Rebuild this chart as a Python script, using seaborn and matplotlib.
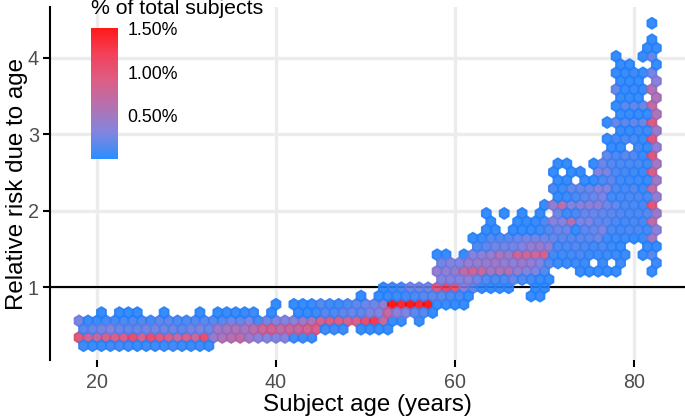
import numpy as np
import pandas as pd
import matplotlib.pyplot as plt
import seaborn as sns
from matplotlib.colors import LinearSegmentedColormap

# risk level of each hexagon row, bottom to top
rel_risk = [0.232, 0.340, 0.448, 0.557, 0.665, 0.773, 0.881, 0.989, 1.098, 1.206,
            1.314, 1.422, 1.530, 1.639, 1.747, 1.855, 1.963, 2.071, 2.180, 2.288,
            2.396, 2.504, 2.612, 2.721, 2.829, 2.937, 3.045, 3.153, 3.262, 3.370,
            3.478, 3.586, 3.694, 3.803, 3.911, 4.019, 4.127, 4.235, 4.344, 4.452]

# age of the first hexagon in each row
first_age = [18.5, 18, 18.5, 18, 20.5, 40, 49.5, 52, 58.5, 58,
             58.5, 58, 62.5, 62, 63.5, 64, 63.5, 70, 71.5, 71,
             71.5, 71, 71.5, 77, 77.5, 77, 78.5, 77, 78.5, 78,
             78.5, 78, 78.5, 78, 78.5, 78, 81.5, 82, 82, 82]

# share of subjects per hexagon in 0.01 %, one year apart, 0 = empty
row_00 = [8, 6, 6, 8, 10, 8, 6, 8, 8, 8, 10, 8, 6, 8, 6]
row_01 = [95, 80, 70, 85, 85, 90, 105, 80, 105, 95, 85, 70, 85, 75, 105, 42, 55, 60, 68, 48, 35, 32, 30, 32, 8, 8, 8]
row_02 = [15, 20, 25, 30, 22, 20, 20, 25, 25, 22, 22, 18, 25, 28, 22, 45, 50, 55, 50, 60, 75, 80, 65, 72, 72, 80, 85, 8, 8, 8, 0, 6, 6, 6, 6]
row_03 = [28, 6, 6, 10, 10, 12, 14, 14, 10, 18, 18, 12, 12, 14, 16, 15, 15, 25, 20, 30, 10, 25, 30, 30, 35, 45, 55, 80, 90, 90, 85, 85, 105, 125, 75, 6, 6, 0, 6]
row_04 = [5, 0, 5, 5, 5, 0, 0, 5, 0, 0, 0, 5, 0, 5, 5, 5, 5, 8, 0, 5, 0, 0, 5, 5, 8, 15, 12, 18, 22, 18, 28, 30, 70, 35, 30, 18, 15, 5]
row_05 = [5, 0, 5, 5, 5, 15, 10, 8, 12, 18, 22, 25, 38, 150, 140, 150, 140, 150, 5, 5, 5, 5]
row_06 = [5, 0, 5, 5, 8, 10, 12, 15, 18, 18, 12, 10, 5, 0, 0, 0, 0, 0, 0, 5, 5]
row_07 = [5, 10, 12, 25, 25, 25, 90, 110, 100, 35, 20, 5, 5, 5, 5, 0, 0, 5, 5]
row_08 = [30, 32, 30, 38, 25, 15, 12, 12, 20, 12, 10, 5, 5]
row_09 = [40, 38, 42, 70, 80, 75, 50, 55, 60, 38, 30, 28, 15, 0, 0, 0, 5, 5, 5, 5, 5, 0, 0, 0, 5]
row_10 = [25, 30, 30, 40, 40, 42, 45, 40, 38, 45, 40, 30, 15, 8, 8, 8, 8, 0, 8, 0, 8, 0, 0, 0, 8]
row_11 = [5, 5, 0, 5, 30, 35, 40, 55, 45, 78, 75, 75, 85, 8, 8, 10, 12, 8, 8, 8, 8, 8, 0, 5, 15]
row_12 = [12, 18, 25, 25, 25, 30, 38, 42, 35, 12, 12, 15, 12, 10, 12, 8, 5, 0, 0, 5, 5]
row_13 = [5, 5, 15, 12, 15, 20, 25, 25, 22, 20, 18, 15, 18, 18, 25, 8, 8, 8, 5, 5, 50]
row_14 = [5, 5, 0, 5, 5, 5, 8, 15, 22, 22, 5, 18, 20, 28, 12, 10, 12, 12, 10, 35]
row_15 = [5, 0, 0, 5, 5, 5, 12, 35, 30, 60, 28, 30, 18, 18, 12, 10, 12, 10, 70]
row_16 = [5, 0, 5, 0, 5, 0, 5, 0, 25, 10, 12, 22, 22, 20, 18, 15, 12, 12, 15, 45]
row_17 = [5, 40, 65, 30, 35, 38, 38, 25, 20, 12, 12, 10, 100]
row_18 = [5, 8, 12, 18, 22, 28, 10, 10, 12, 12, 10, 40]
row_19 = [12, 8, 20, 20, 22, 32, 30, 12, 10, 15, 5, 70]
row_20 = [5, 5, 0, 5, 5, 12, 18, 10, 8, 8, 5, 45]
row_21 = [5, 0, 5, 5, 0, 30, 28, 12, 10, 8, 5, 90]
row_22 = [5, 5, 0, 0, 5, 22, 15, 12, 12, 12, 8, 50]
row_23 = [20, 12, 18, 15, 5, 100]
row_24 = [5, 5, 0, 10, 5, 40]
row_25 = [5, 10, 12, 12, 5, 100]
row_26 = [5, 5, 8, 8, 45]
row_27 = [5, 20, 18, 20, 20, 95]
row_28 = [5, 5, 5, 5, 55]
row_29 = [5, 18, 20, 20, 70]
row_30 = [5, 5, 5, 0, 55]
row_31 = [22, 5, 8, 5, 58]
row_32 = [5, 5, 5, 0, 35]
row_33 = [5, 5, 8, 5, 25]
row_34 = [5, 5, 0, 0, 5]
row_35 = [5, 0, 0, 5, 20]
row_36 = [5, 5]
row_37 = [5]
row_38 = []
row_39 = [5]

rows = [row_00, row_01, row_02, row_03, row_04, row_05, row_06, row_07, row_08, row_09,
        row_10, row_11, row_12, row_13, row_14, row_15, row_16, row_17, row_18, row_19,
        row_20, row_21, row_22, row_23, row_24, row_25, row_26, row_27, row_28, row_29,
        row_30, row_31, row_32, row_33, row_34, row_35, row_36, row_37, row_38, row_39]

x_ticks = [20, 40, 60, 80]
y_ticks = [1, 2, 3, 4]
legend_ticks = [0.5, 1.0, 1.5]

# long table, one line per hexagon
records = []
for risk, start, values in zip(rel_risk, first_age, rows):
    for i, v in enumerate(values):
        if v > 0:
            records.append({'age': start + i, 'risk': risk, 'pct': v / 100})
df = pd.DataFrame(records)

sns.set_theme(style='whitegrid', rc={'grid.color': '#ececec', 'grid.linewidth': 2.4,
                                     'axes.edgecolor': 'black', 'axes.linewidth': 1.5})
plt.rcParams['font.family'] = ['Liberation Sans', 'DejaVu Sans']

blue_red = LinearSegmentedColormap.from_list(
    'blue_red', ['#1482FF', '#7478DC', '#AC62A8', '#D94C78', '#F22C48', '#FF0000'])

fig = plt.figure(figsize=(6.85, 4.19), dpi=100)
W, H = 685, 419
ax = fig.add_axes([50 / W, 1 - 360 / H, 635 / W, 353 / H])

ax.axhline(1, color='black', lw=1.5, zorder=1)
hb = ax.hexbin(df['age'], df['risk'], C=df['pct'], reduce_C_function=np.mean,
               gridsize=(70, 20), extent=(15, 85, 0.124, 4.452),
               cmap=blue_red, vmin=0, vmax=1.51, alpha=0.9,
               edgecolors='face', linewidths=1.35, zorder=2)

ax.set_xlim(14.75, 85.7)
ax.set_ylim(0.045, 4.665)
ax.set_xticks(x_ticks)
ax.set_yticks(y_ticks)
ax.grid(True)
ax.set_axisbelow(True)
ax.tick_params(axis='both', length=5, width=1.5, color='black', labelcolor='#4d4d4d',
               labelsize=14.2, left=True, bottom=True)
ax.tick_params(axis='x', pad=4)
ax.tick_params(axis='y', pad=3)
ax.set_xlabel('Subject age (years)', fontsize=17.4, color='black', labelpad=2)
ax.set_ylabel('Relative risk due to age', fontsize=17.4, color='black', labelpad=0)
sns.despine(ax=ax, bottom=True)

# colour legend inside the panel
cax = fig.add_axes([91 / W, 1 - 159 / H, 27 / W, 131 / H])
cbar = fig.colorbar(hb, cax=cax)
cbar.outline.set_visible(False)
cbar.set_ticks(legend_ticks)
cbar.set_ticklabels(['%.2f%%' % t for t in legend_ticks])
cax.grid(False)
cax.tick_params(axis='y', left=True, right=True, direction='in', length=5, width=0.8,
                color='white', labelcolor='black', labelsize=12.8, pad=7)
fig.text(91 / W, 1 - 8.5 / H, '% of total subjects', fontsize=15.3, color='black',
         ha='left', va='center')

fig.savefig('out.png', dpi=100)
